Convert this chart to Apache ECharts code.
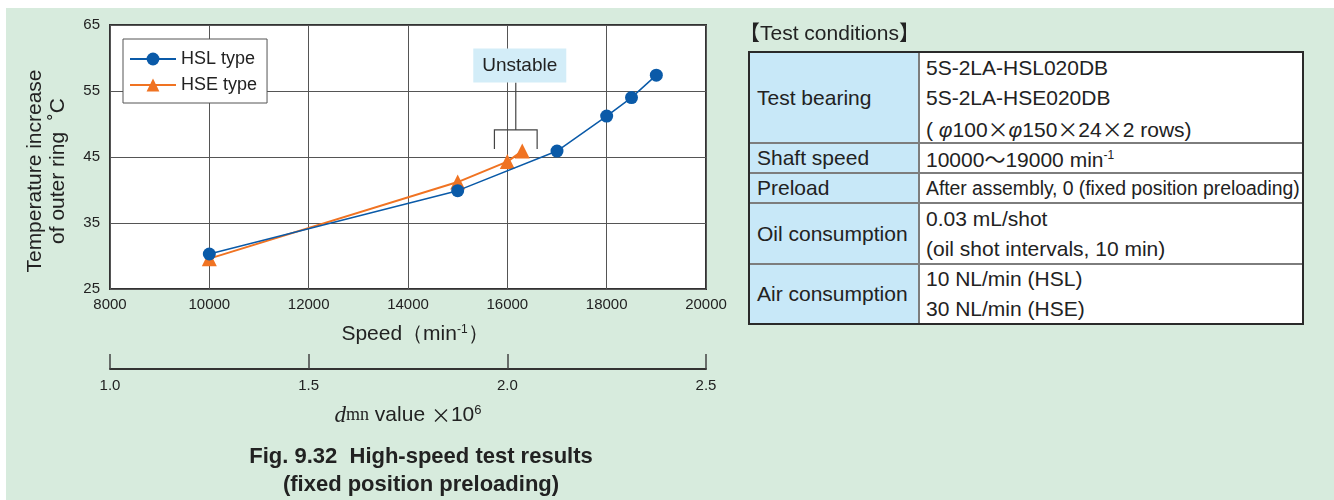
<!DOCTYPE html>
<html>
<head>
<meta charset="utf-8">
<script src="https://cdn.jsdelivr.net/npm/echarts@6/dist/echarts.min.js"></script>
<style>
  html, body { margin: 0; padding: 0; background: #ffffff; }
  #panel { position: absolute; left: 6px; top: 8px; width: 1328px; height: 492px; background: #d7ebdd; }
  #chart { position: absolute; left: 0; top: 0; width: 1334px; height: 500px; }
  .txt { font-family: "Liberation Sans", Arial, "Noto Sans CJK JP", sans-serif; color: #222; }
  .cjk { font-family: "Noto Sans CJK JP", sans-serif; }
  #cond-title { position: absolute; left: 739px; top: 18px; font-size: 21px; line-height: 30px; white-space: nowrap; }
  #cond { position: absolute; left: 749px; top: 52px; width: 554px; height: 272px; background: #ffffff; font-size: 21px; }
  #cond .cell { position: absolute; display: flex; flex-direction: column; justify-content: center; box-sizing: border-box; white-space: nowrap; }
  #cond .key { left: 0; width: 170px; background: #c8e8f8; padding-left: 8px; }
  #cond .val { left: 170px; width: 384px; padding-left: 7px; }
  #cond .val div, #cond .key div { line-height: 30px; height: 30px; }
  #cond .small { font-size: 19.4px; letter-spacing: -0.05px; }
  #cond .hr { position: absolute; left: 0; width: 554px; height: 1.5px; background: #7d7d7d; }
  #cond .vr { position: absolute; top: 0; left: 169.25px; width: 1.5px; height: 272px; background: #7d7d7d; }
  #cond .frame { position: absolute; left: -1px; top: -1px; width: 556px; height: 274px; box-sizing: border-box; border: 2px solid #2a2a2a; }
  #cond sup { font-size: 12px; vertical-align: 8px; line-height: 0; color: #222; }
</style>
</head>
<body>
<div id="panel"></div>
<div id="chart"></div>

<div id="cond-title" class="txt">【Test conditions】</div>
<div id="cond" class="txt"></div>

<script>
// Outer-ring temperature rise versus shaft speed for the two bearing types
const hslSpeed = [10000, 15000, 17000, 18000, 18500, 19000];
const hslTemp  = [30.3, 39.9, 45.9, 51.2, 54.0, 57.4];
const hseSpeed = [10000, 15000, 16000, 16300];
const hseTemp  = [29.6, 41.2, 44.3, 45.9];

// Axis ticks
const speedTicks = [8000, 10000, 12000, 14000, 16000, 18000, 20000];
const tempTicks  = [25, 35, 45, 55, 65];
const dmnTicks   = [1.0, 1.5, 2.0, 2.5];

const seriesNames = ['HSL type', 'HSE type'];
const unstableText = 'Unstable';
// Bracket marking the unstable region (speed range, bar level, tip level, stem top)
const unstableSpan = [15740, 16600];
const unstableLevels = { bar: 49.1, tip: 46.2, stemTop: 56.3 };

const captionLines = ['Fig. 9.32  High-speed test results', '(fixed position preloading)'];
const yTitleLines = ['Temperature increase', 'of outer ring  ˚C'];

// Test-condition table: label, value lines (HTML), row height
const X = '<span class="cjk">×</span>';
const conditionRows = [
  ['Test bearing', ['5S-2LA-HSL020DB', '5S-2LA-HSE020DB', '(<i> φ</i>100' + X + '<i>φ</i>150' + X + '24' + X + '2 rows)'], 91, ''],
  ['Shaft speed', ['10000<span class="cjk">〜</span>19000 min<sup>-1</sup>'], 30, ''],
  ['Preload', ['After assembly, 0 (fixed position preloading)'], 30, 'small'],
  ['Oil consumption', ['0.03 mL/shot', '(oil shot intervals, 10 min)'], 61, ''],
  ['Air consumption', ['10 NL/min (HSL)', '30 NL/min (HSE)'], 60, '']
];

(function buildTable() {
  const host = document.getElementById('cond');
  let html = '';
  let top = 0;
  conditionRows.forEach(([label, lines, h, cls], i) => {
    html += `<div class="cell key" style="top:${top}px;height:${h}px"><div>${label}</div></div>`;
    html += `<div class="cell val ${cls}" style="top:${top}px;height:${h}px">${lines.map(l => `<div>${l}</div>`).join('')}</div>`;
    if (i > 0) html += `<div class="hr" style="top:${top - 0.75}px"></div>`;
    top += h;
  });
  html += '<div class="vr"></div><div class="frame"></div>';
  host.innerHTML = html;
})();

const FONT = '"Liberation Sans", Arial, sans-serif';
const INK = '#222222';
const BLUE = '#0a5aa8';
const ORANGE = '#f07322';

const zip = (xs, ys) => xs.map((x, i) => [x, ys[i]]);

const chart = echarts.init(document.getElementById('chart'), null, { renderer: 'canvas' });

const option = {
  animation: false,
  backgroundColor: 'transparent',
  textStyle: { fontFamily: FONT, color: INK },
  grid: [
    { left: 110, top: 25, width: 596, height: 264, show: true, backgroundColor: '#ffffff',
      borderColor: '#333333', borderWidth: 2 },
    { left: 110, top: 359, width: 596, height: 10, show: false }
  ],
  legend: {
    data: seriesNames,
    orient: 'vertical',
    left: 123, top: 39,
    backgroundColor: '#ffffff',
    borderColor: '#555555', borderWidth: 1, borderRadius: 0,
    padding: [11, 10, 9, 6],
    itemWidth: 46, itemHeight: 16, itemGap: 8,
    textStyle: { fontFamily: FONT, fontSize: 18, color: INK }
  },
  xAxis: [
    {
      type: 'value', gridIndex: 0,
      min: speedTicks[0], max: speedTicks[speedTicks.length - 1],
      interval: speedTicks[1] - speedTicks[0],
      axisLine: { show: false }, axisTick: { show: false },
      splitLine: { show: true, lineStyle: { color: '#555555', width: 1 } },
      axisLabel: { fontFamily: FONT, fontSize: 15, color: INK, margin: 8, showMinLabel: true, showMaxLabel: true,
                   formatter: v => String(v) },
      name: 'Speed（min{sup|-1}）',
      nameLocation: 'middle', nameGap: 35,
      nameTextStyle: {
        fontFamily: FONT, fontSize: 21, color: INK, padding: [0, 0, 0, 14],
        rich: { sup: { fontFamily: FONT, fontSize: 12, color: INK, verticalAlign: 'top', padding: [0, 0, 8, 0] } }
      }
    },
    {
      type: 'value', gridIndex: 1, position: 'bottom',
      min: dmnTicks[0], max: dmnTicks[dmnTicks.length - 1],
      interval: dmnTicks[1] - dmnTicks[0],
      axisLine: { show: true, onZero: false, lineStyle: { color: '#333333', width: 2 } },
      axisTick: { show: true, inside: true, length: 15, lineStyle: { color: '#444444', width: 1.5 } },
      splitLine: { show: false },
      axisLabel: { fontFamily: FONT, fontSize: 15, color: INK, margin: 9, formatter: v => v.toFixed(1) },
      name: '{d|d}{mn|mn} value {x|×}10{sup|6}',
      nameLocation: 'middle', nameGap: 35,
      nameTextStyle: {
        fontFamily: FONT, fontSize: 21, color: INK,
        rich: {
          d:   { fontFamily: '"Liberation Serif", serif', fontStyle: 'italic', fontSize: 23, color: INK },
          mn:  { fontFamily: '"Liberation Serif", serif', fontSize: 18, color: INK },
          x:   { fontFamily: '"Noto Sans CJK JP", sans-serif', fontSize: 20, color: INK },
          sup: { fontFamily: FONT, fontSize: 13, color: INK, verticalAlign: 'top', padding: [0, 0, 9, 0] }
        }
      }
    }
  ],
  yAxis: [
    {
      type: 'value', gridIndex: 0,
      min: tempTicks[0], max: tempTicks[tempTicks.length - 1],
      interval: tempTicks[1] - tempTicks[0],
      axisLine: { show: false }, axisTick: { show: false },
      splitLine: { show: true, lineStyle: { color: '#555555', width: 1 } },
      axisLabel: { fontFamily: FONT, fontSize: 15, color: INK, margin: 10 }
    },
    { type: 'value', gridIndex: 1, show: false, min: 0, max: 1 }
  ],
  series: [
    {
      name: seriesNames[1], type: 'line', xAxisIndex: 0, yAxisIndex: 0,
      data: zip(hseSpeed, hseTemp),
      symbol: 'triangle', symbolSize: 15,
      itemStyle: { color: ORANGE },
      lineStyle: { color: ORANGE, width: 2 },
      z: 3
    },
    {
      name: seriesNames[0], type: 'line', xAxisIndex: 0, yAxisIndex: 0,
      data: zip(hslSpeed, hslTemp),
      symbol: 'circle', symbolSize: 13,
      itemStyle: { color: BLUE },
      lineStyle: { color: BLUE, width: 1.5 },
      z: 4
    }
  ]
};

chart.setOption(option);

// Annotation, titles and caption placed from the axis scales
const px = (x, y) => chart.convertToPixel({ gridIndex: 0 }, [x, y]);
const [bx0, yBar] = px(unstableSpan[0], unstableLevels.bar);
const [bx1, yTip] = px(unstableSpan[1], unstableLevels.tip);
const bxc = (bx0 + bx1) / 2;
const yStem = px(0, unstableLevels.stemTop)[1];
const plotTop = px(0, tempTicks[tempTicks.length - 1])[1];
const plotBottom = px(0, tempTicks[0])[1];
const plotMid = (plotTop + plotBottom) / 2;

const boxW = 93, boxH = 34;
const boxX = bxc + 4 - boxW / 2, boxY = yStem - boxH;

chart.setOption({
  graphic: [
    { type: 'polyline', z: 50,
      shape: { points: [[bx0, yTip], [bx0, yBar], [bx1, yBar], [bx1, yTip]] },
      style: { stroke: '#444444', lineWidth: 1.2, fill: null } },
    { type: 'line', z: 50,
      shape: { x1: bxc, y1: yBar, x2: bxc, y2: yStem },
      style: { stroke: '#444444', lineWidth: 1.2 } },
    { type: 'rect', z: 60,
      shape: { x: boxX, y: boxY, width: boxW, height: boxH },
      style: { fill: '#d3edf8' } },
    { type: 'text', z: 61, x: boxX + boxW / 2, y: boxY + boxH / 2,
      style: { text: unstableText, font: '19px ' + FONT, fill: INK, textAlign: 'center', textVerticalAlign: 'middle' } },
    { type: 'text', z: 10, x: 35, y: plotMid + 14, rotation: Math.PI / 2,
      style: { text: yTitleLines[0], font: '21px ' + FONT, fill: INK, textAlign: 'center', textVerticalAlign: 'middle' } },
    { type: 'text', z: 10, x: 58, y: plotMid + 14, rotation: Math.PI / 2,
      style: { text: yTitleLines[1], font: '21px ' + FONT, fill: INK, textAlign: 'center', textVerticalAlign: 'middle' } },
    { type: 'text', z: 10, x: 421, y: 457,
      style: { text: captionLines[0], font: 'bold 22px ' + FONT, fill: INK, textAlign: 'center', textVerticalAlign: 'middle' } },
    { type: 'text', z: 10, x: 421, y: 485,
      style: { text: captionLines[1], font: 'bold 22px ' + FONT, fill: INK, textAlign: 'center', textVerticalAlign: 'middle' } }
  ]
});
</script>
</body>
</html>
